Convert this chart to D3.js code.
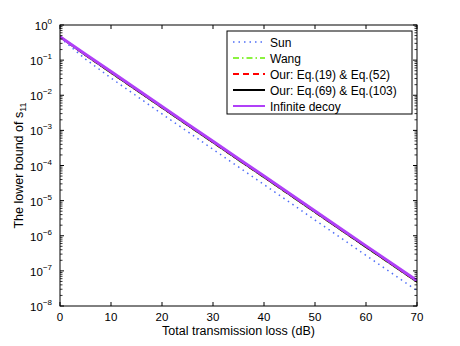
<!DOCTYPE html>
<html>
<head>
<meta charset="utf-8">
<script src="https://cdn.jsdelivr.net/npm/d3@7"></script>
<style>
  body { margin: 0; background: #fff; }
  text { font-family: "Liberation Sans", Arial, sans-serif; }
</style>
</head>
<body>
<div id="chart"></div>
<script>
// transmission loss (dB)
const loss = [0, 5, 10, 15, 20, 25, 30, 35, 40, 45, 50, 55, 60, 65, 70];

const sun      = [0.435, 0.107, 0.0309, 9.55e-3, 2.93e-3, 9.25e-4, 2.89e-4, 9.1e-5, 2.87e-5, 9.0e-6, 2.8e-6, 8.83e-7, 2.76e-7, 8.73e-8, 2.73e-8];
const wang     = [0.464, 0.136, 0.0428, 0.0137, 4.34e-3, 1.38e-3, 4.42e-4, 1.41e-4, 4.52e-5, 1.44e-5, 4.58e-6, 1.46e-6, 4.66e-7, 1.49e-7, 4.76e-8];
const ourA     = [0.464, 0.140, 0.0445, 0.0142, 4.52e-3, 1.44e-3, 4.6e-4, 1.47e-4, 4.7e-5, 1.5e-5, 4.76e-6, 1.52e-6, 4.84e-7, 1.55e-7, 4.94e-8];
const ourB     = [0.464, 0.140, 0.0445, 0.0142, 4.52e-3, 1.44e-3, 4.6e-4, 1.47e-4, 4.7e-5, 1.5e-5, 4.76e-6, 1.52e-6, 4.84e-7, 1.55e-7, 4.94e-8];
const infinite = [0.464, 0.148, 0.0473, 0.0151, 4.8e-3, 1.53e-3, 4.89e-4, 1.56e-4, 5.0e-5, 1.59e-5, 5.06e-6, 1.61e-6, 5.15e-7, 1.65e-7, 5.26e-8];

const xTicks = [0, 10, 20, 30, 40, 50, 60, 70];
const yExps = [0, -1, -2, -3, -4, -5, -6, -7, -8];

const series = [
  { name: "Sun", values: sun, color: "#4f6ef7", width: 1.5, dash: "1.5,4" },
  { name: "Wang", values: wang, color: "#66ee00", width: 1.5, dash: "6,3,1.5,3" },
  { name: "Our: Eq.(19) & Eq.(52)", values: ourA, color: "#ff0000", width: 2, dash: "6,4" },
  { name: "Our: Eq.(69) & Eq.(103)", values: ourB, color: "#000000", width: 2, dash: null },
  { name: "Infinite decoy", values: infinite, color: "#b040f8", width: 3, dash: null }
];

const W = 460, H = 346;
const m = { left: 60, right: 43, top: 25, bottom: 40 };
const pw = W - m.left - m.right, ph = H - m.top - m.bottom;

const svg = d3.select("#chart").append("svg").attr("width", W).attr("height", H);
const g = svg.append("g").attr("transform", `translate(${m.left},${m.top})`);

const x = d3.scaleLinear().domain([0, 70]).range([0, pw]);
const y = d3.scaleLog().domain([1e-8, 1]).range([ph, 0]);

// clip
svg.append("defs").append("clipPath").attr("id", "clip")
  .append("rect").attr("width", pw).attr("height", ph);

// lines
const line = d3.line().x((d, i) => x(loss[i])).y(d => y(d));
const plot = g.append("g").attr("clip-path", "url(#clip)");
// draw order: sun, wang, red, black, purple
series.forEach(s => {
  plot.append("path")
    .datum(s.values)
    .attr("d", line)
    .attr("fill", "none")
    .attr("stroke", s.color)
    .attr("stroke-width", s.width)
    .attr("stroke-dasharray", s.dash);
});

// box
g.append("rect").attr("width", pw).attr("height", ph)
  .attr("fill", "none").attr("stroke", "#000").attr("stroke-width", 1);

// x ticks (inward, bottom and top)
xTicks.forEach(t => {
  const xx = x(t);
  g.append("line").attr("x1", xx).attr("x2", xx).attr("y1", ph).attr("y2", ph - 4).attr("stroke", "#000");
  g.append("line").attr("x1", xx).attr("x2", xx).attr("y1", 0).attr("y2", 4).attr("stroke", "#000");
  g.append("text").attr("x", xx).attr("y", ph + 15).attr("text-anchor", "middle")
    .attr("font-size", 11.5).text(t);
});

// y ticks, major + minor
yExps.forEach(e => {
  const yy = y(Math.pow(10, e));
  g.append("line").attr("x1", 0).attr("x2", 4).attr("y1", yy).attr("y2", yy).attr("stroke", "#000");
  g.append("line").attr("x1", pw).attr("x2", pw - 4).attr("y1", yy).attr("y2", yy).attr("stroke", "#000");
  const lab = g.append("text").attr("x", -8).attr("y", yy + 5).attr("text-anchor", "end").attr("font-size", 11.5);
  lab.append("tspan").text("10");
  lab.append("tspan").attr("dy", -6).attr("font-size", 8).text(e === 0 ? "0" : "\u2212" + Math.abs(e));
  if (e > -8) {
    for (let k = 2; k <= 9; k++) {
      const ym = y(k * Math.pow(10, e - 1));
      g.append("line").attr("x1", 0).attr("x2", 2.5).attr("y1", ym).attr("y2", ym).attr("stroke", "#000").attr("stroke-width", 0.8);
      g.append("line").attr("x1", pw).attr("x2", pw - 2.5).attr("y1", ym).attr("y2", ym).attr("stroke", "#000").attr("stroke-width", 0.8);
    }
  }
});

// axis labels
g.append("text").attr("x", pw / 2).attr("y", ph + 29).attr("text-anchor", "middle")
  .attr("font-size", 12.5).text("Total transmission loss (dB)");

const yl = svg.append("text").attr("transform", `translate(23,${m.top + ph / 2}) rotate(-90)`)
  .attr("text-anchor", "middle").attr("font-size", 12.5);
yl.append("tspan").text("The lower bound of s");
yl.append("tspan").attr("dy", 3).attr("font-size", 9).text("11");

// legend
const lg = svg.append("g").attr("transform", "translate(227,31)");
lg.append("rect").attr("width", 185).attr("height", 83).attr("fill", "#fff").attr("stroke", "#000").attr("stroke-width", 1);
series.forEach((s, i) => {
  const ly = 11 + i * 16;
  lg.append("line").attr("x1", 6).attr("x2", 38).attr("y1", ly).attr("y2", ly)
    .attr("stroke", s.color).attr("stroke-width", s.width === 3 ? 2 : s.width)
    .attr("stroke-dasharray", s.dash);
  lg.append("text").attr("x", 43).attr("y", ly + 4.5).attr("font-size", 12).text(s.name);
});
</script>
</body>
</html>
